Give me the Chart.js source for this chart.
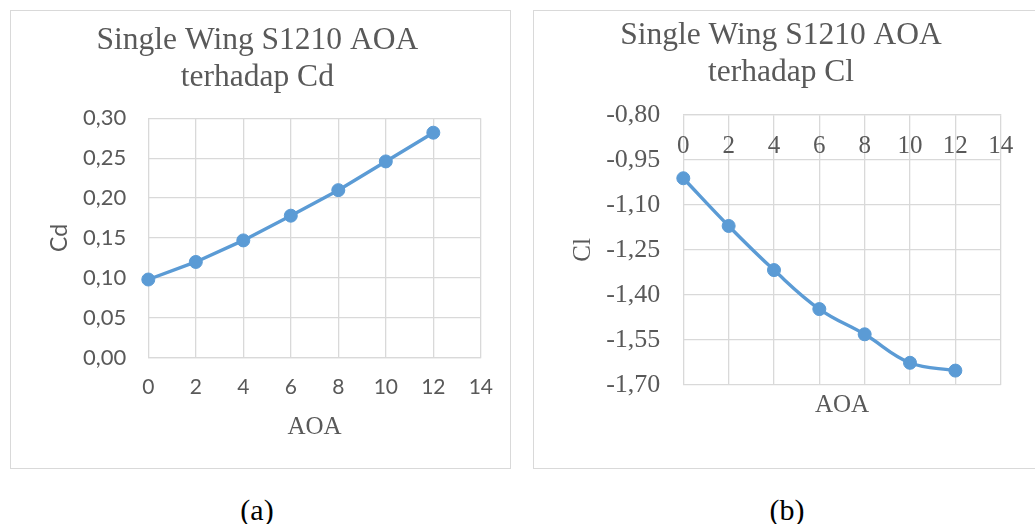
<!DOCTYPE html>
<html>
<head>
<meta charset="utf-8">
<script src="https://cdn.jsdelivr.net/npm/chart.js@4.4.1/dist/chart.umd.min.js"></script>
<style>
  html, body { margin: 0; padding: 0; background: #ffffff; }
  body { width: 1035px; height: 524px; position: relative; overflow: hidden; }
  .frame { position: absolute; box-sizing: border-box; border: 1px solid #d9d9d9; }
  canvas { position: absolute; }
  .caption { position: absolute; width: 80px; text-align: center; font-family: "Liberation Serif", "Times New Roman", serif; font-size: 30px; line-height: 30px; color: #000; }
</style>
</head>
<body>
<div class="frame" style="left:10px; top:10px; width:501px; height:459px;"></div>
<div class="frame" style="left:533px; top:10px; width:510px; height:459px;"></div>
<canvas id="cdChart" width="500" height="458" style="left:10px; top:10px; width:500px; height:458px;"></canvas>
<canvas id="clChart" width="502" height="458" style="left:533px; top:10px; width:502px; height:458px;"></canvas>
<div class="caption" style="left:217px; top:495px;">(a)</div>
<div class="caption" style="left:747px; top:495px;">(b)</div>

<script>
// Angle of attack (degrees) and the measured coefficients for the S1210 single wing
const aoa = [0, 2, 4, 6, 8, 10, 12];
const cdValues = [0.098, 0.120, 0.147, 0.178, 0.210, 0.246, 0.282];
const clValues = [-1.011, -1.170, -1.317, -1.447, -1.531, -1.626, -1.652];

// Axis ticks
const aoaTicks = [0, 2, 4, 6, 8, 10, 12, 14];
const cdTicks = [0, 0.05, 0.10, 0.15, 0.20, 0.25, 0.30];
const clTicks = [-1.70, -1.55, -1.40, -1.25, -1.10, -0.95, -0.80];

// Titles
const cdTitle = ['Single Wing S1210 AOA', 'terhadap Cd'];
const clTitle = ['Single Wing S1210 AOA', 'terhadap Cl'];

const SERIF = '"Liberation Serif", "Times New Roman", serif';
const SANS = 'Lato, "Open Sans", sans-serif';
const TEXT = '#595959';
const GRID = '#d9d9d9';
const LINE = '#5b9bd5';

const comma = v => v.toFixed(2).replace('.', ',');
const fixedTicks = list => scale => { scale.ticks = list.map(v => ({ value: v })); };
const pointsOf = (xs, ys) => xs.map((x, i) => ({ x: x, y: ys[i] }));

function seriesStyle(tension) {
  return {
    borderColor: LINE,
    backgroundColor: LINE,
    borderWidth: 3.4,
    pointRadius: 6.5,
    pointBorderWidth: 1,
    pointBackgroundColor: LINE,
    pointBorderColor: LINE,
    tension: tension,
    clip: false
  };
}

function draw() {
  Chart.defaults.color = TEXT;

  // (a) AOA vs Cd
  new Chart(document.getElementById('cdChart'), {
    type: 'line',
    data: { datasets: [Object.assign({ label: 'Cd', data: pointsOf(aoa, cdValues) }, seriesStyle(0))] },
    options: {
      responsive: false,
      animation: false,
      devicePixelRatio: 1,
      layout: { padding: { left: 23, right: 28.3, top: 0, bottom: 0 } },
      plugins: {
        legend: { display: false },
        tooltip: { enabled: false },
        title: {
          display: true,
          text: cdTitle,
          color: TEXT,
          font: { family: SERIF, size: 31.5, weight: 'normal', lineHeight: 1.18 },
          padding: { top: 12.3, bottom: 21.7 }
        }
      },
      scales: {
        x: {
          type: 'linear',
          min: 0, max: 14,
          afterBuildTicks: fixedTicks(aoaTicks),
          afterFit: s => { s.height = 110.3; },
          grid: { color: GRID, lineWidth: 1.3, drawTicks: false },
          border: { color: GRID, width: 1.3 },
          ticks: { color: TEXT, padding: 17, font: { family: SANS, size: 21, lineHeight: 1.2 } },
          title: { display: true, text: 'AOA', color: TEXT, font: { family: SERIF, size: 25, lineHeight: 1.2 }, padding: { top: 0, bottom: 26 } }
        },
        y: {
          type: 'linear',
          min: 0, max: 0.30,
          afterBuildTicks: fixedTicks(cdTicks),
          afterFit: s => { s.width = 115.3; },
          grid: { color: GRID, lineWidth: 1.3, drawTicks: false },
          border: { display: false },
          ticks: { color: TEXT, padding: 22, font: { family: SANS, size: 22, lineHeight: 1.2 }, callback: v => comma(v) },
          title: { display: true, text: 'Cd', color: TEXT, font: { family: SANS, size: 23, lineHeight: 1.2 }, padding: { top: 13.2, bottom: 0 } }
        }
      }
    }
  });

  // (b) AOA vs Cl — horizontal axis crosses at the top, labels sit just under it
  new Chart(document.getElementById('clChart'), {
    type: 'line',
    data: { datasets: [Object.assign({ label: 'Cl', data: pointsOf(aoa, clValues), xAxisID: 'x', yAxisID: 'y' }, seriesStyle(0.4))] },
    options: {
      responsive: false,
      animation: false,
      devicePixelRatio: 1,
      layout: { padding: { left: 28.3, right: 34.3, top: 0, bottom: 0 } },
      plugins: {
        legend: { display: false },
        tooltip: { enabled: false },
        title: {
          display: true,
          text: clTitle,
          color: TEXT,
          font: { family: SERIF, size: 31.5, weight: 'normal', lineHeight: 1.18 },
          padding: { top: 7.4, bottom: 23.2 }
        }
      },
      scales: {
        x: {
          type: 'linear',
          position: 'top',
          min: 0, max: 14,
          afterBuildTicks: fixedTicks(aoaTicks),
          afterFit: s => { s.height = 0; },
          grid: { color: GRID, lineWidth: 1.3, drawTicks: false },
          border: { color: GRID, width: 1.3 },
          ticks: { color: TEXT, mirror: true, padding: 16.7, font: { family: SERIF, size: 25, lineHeight: 1.2 } }
        },
        aoaTitle: {
          type: 'linear',
          axis: 'x',
          position: 'bottom',
          min: 0, max: 14,
          afterFit: s => { s.height = 83; },
          grid: { display: false, drawTicks: false },
          border: { display: false },
          ticks: { display: false },
          title: { display: true, text: 'AOA', color: TEXT, font: { family: SERIF, size: 25, lineHeight: 1.2 }, padding: { top: 0, bottom: 48 } }
        },
        y: {
          type: 'linear',
          min: -1.70, max: -0.80,
          afterBuildTicks: fixedTicks(clTicks),
          afterFit: s => { s.width = 122; },
          grid: { color: GRID, lineWidth: 1.3, drawTicks: false },
          border: { display: false },
          ticks: { color: TEXT, padding: 23, font: { family: SERIF, size: 26, lineHeight: 1.2 }, callback: v => comma(v) },
          title: { display: true, text: 'Cl', color: TEXT, font: { family: SERIF, size: 25, lineHeight: 1.2 }, padding: { top: 7, bottom: 0 } }
        }
      }
    }
  });
}

Promise.all([
  document.fonts.load('22px Lato'),
  document.fonts.load('25px "Liberation Serif"')
]).then(draw, draw);
</script>
</body>
</html>
